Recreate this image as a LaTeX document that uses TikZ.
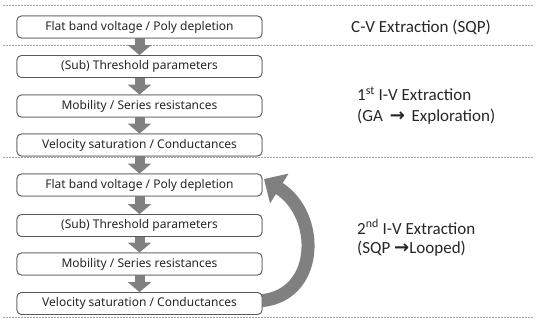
\documentclass[tikz,border=0pt]{standalone}
\usepackage{fontspec}
\setmainfont{Carlito}
\newfontfamily\boxfont{Noto Sans}
\newfontfamily\arrfont{DejaVu Sans}
\usetikzlibrary{arrows.meta}
\definecolor{arrgray}{HTML}{808080}
\definecolor{sepgray}{HTML}{A6A6A6}
\definecolor{boxline}{HTML}{595959}
\definecolor{txt}{HTML}{262626}
\tikzset{
  stepbox/.style={draw=boxline, line width=0.8pt, rounded corners=4.5pt, fill=white,
    minimum width=245pt, minimum height=22pt, inner sep=0pt,
    font=\boxfont\fontsize{12}{13}\selectfont, text=txt},
  sep/.style={draw=sepgray, line width=0.6pt, dash pattern=on 2pt off 1pt},
  flowarr/.style={draw=arrgray, line width=10pt, -{Triangle[length=10pt,width=23pt]}},
  looparr/.style={draw=arrgray, line width=13pt, -{Triangle[length=18pt,width=34pt]}},
  phase/.style={anchor=west, inner sep=0pt, text=txt, font=\fontsize{17}{19}\selectfont}
}
\newcommand{\rarr}{{\arrfont\bfseries\fontsize{18}{19}\selectfont →}}
\begin{document}
\begin{tikzpicture}[x=1pt, y=-1pt]
\useasboundingbox (0,0) rectangle (537,324);
% separators
\coordinate (s1a) at (3,5);   \coordinate (s1b) at (533,5);
\coordinate (s2a) at (3,45);  \coordinate (s2b) at (533,45);
\coordinate (s3a) at (3,157); \coordinate (s3b) at (533,157);
\coordinate (s4a) at (3,317); \coordinate (s4b) at (533,317);
\draw[sep] (s1a) -- (s1b);
\draw[sep] (s2a) -- (s2b);
\draw[sep] (s3a) -- (s3b);
\draw[sep] (s4a) -- (s4b);
% box positions
\coordinate (p1) at (139.5,27);
\coordinate (p2) at (139.5,66.5);
\coordinate (p3) at (139.5,106);
\coordinate (p4) at (139.5,145);
\coordinate (p5) at (139.5,185);
\coordinate (p6) at (139.5,225.5);
\coordinate (p7) at (139.5,264);
\coordinate (p8) at (139.5,303.5);
\path (p1) node[stepbox] (b1) {Flat band voltage / Poly depletion};
\path (p2) node[stepbox] (b2) {(Sub) Threshold parameters};
\path (p3) node[stepbox] (b3) {Mobility / Series resistances};
\path (p4) node[stepbox] (b4) {Velocity saturation / Conductances};
\path (p5) node[stepbox] (b5) {Flat band voltage / Poly depletion};
\path (p6) node[stepbox] (b6) {(Sub) Threshold parameters};
\path (p7) node[stepbox] (b7) {Mobility / Series resistances};
\path (p8) node[stepbox] (b8) {Velocity saturation / Conductances};
% arrows
\draw[flowarr] (b1.south) -- (b2.north);
\draw[flowarr] (b2.south) -- (b3.north);
\draw[flowarr] (b3.south) -- (b4.north);
\draw[flowarr] (b4.south) -- (b5.north);
\draw[flowarr] (b5.south) -- (b6.north);
\draw[flowarr] (b6.south) -- (b7.north);
\draw[flowarr] (b7.south) -- (b8.north);
\coordinate (lt) at (256,301);
\coordinate (lh) at (264,179);
\draw[looparr] (lt) .. controls (320,300) and (322,215) .. (lh);
% boxes again on top of the arrow ends
\path (p1) node[stepbox] {Flat band voltage / Poly depletion};
\path (p2) node[stepbox] {(Sub) Threshold parameters};
\path (p3) node[stepbox] {Mobility / Series resistances};
\path (p4) node[stepbox] {Velocity saturation / Conductances};
\path (p5) node[stepbox] {Flat band voltage / Poly depletion};
\path (p6) node[stepbox] {(Sub) Threshold parameters};
\path (p7) node[stepbox] {Mobility / Series resistances};
\path (p8) node[stepbox] {Velocity saturation / Conductances};
% phase labels
\node[phase, anchor=center] (t1) at (421,27) {C-V Extraction (SQP)};
\node[phase] (t2) at (357,94) {1\textsuperscript{st} I-V Extraction};
\node[phase] (t3) at (357,117) {(GA\hspace{3pt} \rarr{}\hspace{3pt} Exploration)};
\node[phase] (t4) at (357,227) {2\textsuperscript{nd} I-V Extraction};
\node[phase] (t5) at (357,249) {(SQP \rarr{}Looped)};
\end{tikzpicture}
\end{document}
